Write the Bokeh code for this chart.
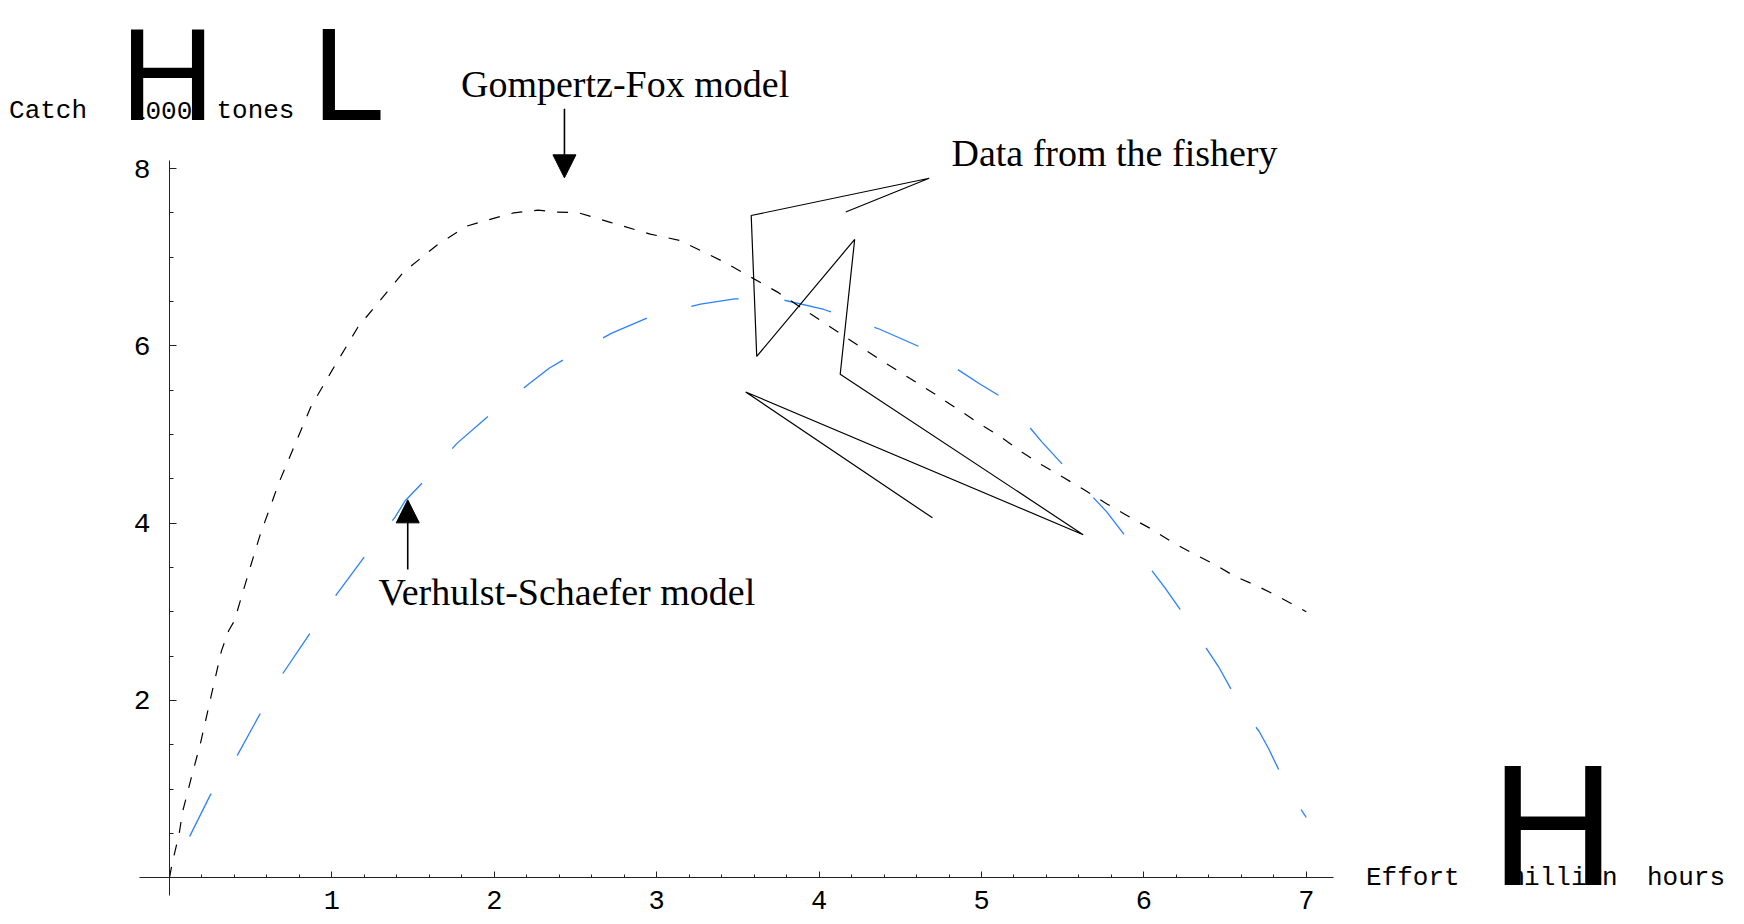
from bokeh.plotting import figure
from bokeh.models import Label, Arrow, NormalHead, FixedTicker, Range1d
from bokeh.embed import file_html
from bokeh.resources import INLINE

# ---------------- data ----------------
# Gompertz-Fox model (black, short dashes)
gf_effort = [0.0, 0.016, 0.06, 0.08, 0.14, 0.19, 0.26, 0.32, 0.365, 0.40, 0.50, 0.56,
             0.62, 0.67, 0.87, 1.00, 1.16, 1.44, 1.65, 1.83, 1.98, 2.12, 2.27, 2.37,
             2.52, 2.72, 2.96, 3.14, 3.41, 3.75, 4.03, 4.37, 4.71, 4.99, 5.12, 5.25,
             5.37, 5.50, 5.62, 5.77, 5.92, 6.05, 6.17, 6.30, 6.44, 6.56, 6.70, 6.83, 7.00]
gf_catch = [0.0, 0.16, 0.50, 0.74, 1.17, 1.51, 2.08, 2.56, 2.79, 2.90, 3.52, 3.88,
            4.18, 4.44, 5.31, 5.72, 6.21, 6.83, 7.14, 7.35, 7.43, 7.50, 7.53, 7.51,
            7.50, 7.39, 7.26, 7.19, 6.95, 6.60, 6.26, 5.85, 5.46, 5.12, 4.97, 4.80,
            4.66, 4.52, 4.39, 4.22, 4.06, 3.93, 3.79, 3.66, 3.53, 3.40, 3.29, 3.17, 3.00]

# Verhulst-Schaefer model (blue, long dashes)
vs_effort = [0.0, 0.125, 0.25, 0.42, 0.57, 0.70, 0.87, 1.03, 1.22, 1.39, 1.45, 1.57,
             1.77, 1.99, 2.22, 2.34, 2.46, 2.72, 2.96, 3.27, 3.48, 3.75, 4.03, 4.37,
             4.68, 4.99, 5.16, 5.37, 5.57, 5.77, 5.95, 6.13, 6.29, 6.46, 6.60, 6.71,
             6.77, 6.89, 7.00]
vs_catch = [0.0, 0.47, 0.93, 1.39, 1.89, 2.31, 2.77, 3.20, 3.67, 4.07, 4.25, 4.48,
            4.90, 5.25, 5.58, 5.75, 5.88, 6.14, 6.33, 6.47, 6.53, 6.53, 6.41, 6.19,
            5.94, 5.57, 5.38, 4.92, 4.52, 4.13, 3.70, 3.27, 2.85, 2.38, 1.92, 1.65,
            1.45, 0.99, 0.68]

# Data from the fishery (black solid, in time order)
obs_effort = [4.164, 4.678, 3.582, 3.616, 4.219, 4.130, 5.626, 3.548, 4.698]
obs_catch = [7.51, 7.89, 7.47, 5.88, 7.20, 5.68, 3.87, 5.48, 4.06]

x_ticks = [1, 2, 3, 4, 5, 6, 7]
y_ticks = [2, 4, 6, 8]
x_minor = [i / 5 for i in range(1, 35) if i % 5 != 0]
y_minor = [i / 2 for i in range(1, 16) if i % 4 != 0]

# ---------------- figure ----------------
W, H = 1744, 924
p = figure(width=W, height=H, output_backend="svg", toolbar_location=None,
           x_range=Range1d(-1.0406, 9.6983), y_range=Range1d(-0.5267, 9.8951),
           min_border=0, background_fill_color="white", border_fill_color="white")
p.outline_line_color = None
p.grid.visible = False

axis_col = "#222222"
xa = p.xaxis[0]
xa.fixed_location = 0
xa.bounds = (-0.185, 7.166)
xa.ticker = FixedTicker(ticks=x_ticks, minor_ticks=x_minor)
xa.major_tick_in = 6
xa.major_tick_out = 0
xa.minor_tick_in = 3
xa.minor_tick_out = 0
xa.axis_line_color = axis_col
xa.major_tick_line_color = axis_col
xa.minor_tick_line_color = axis_col
xa.major_label_text_font = "Liberation Mono"
xa.major_label_text_font_size = "27px"
xa.major_label_text_color = "black"
xa.major_label_standoff = 13

ya = p.yaxis[0]
ya.fixed_location = 0
ya.bounds = (-0.2, 8.09)
ya.ticker = FixedTicker(ticks=y_ticks, minor_ticks=y_minor)
ya.major_tick_in = 7
ya.major_tick_out = 0
ya.minor_tick_in = 4
ya.minor_tick_out = 0
ya.axis_line_color = axis_col
ya.major_tick_line_color = axis_col
ya.minor_tick_line_color = axis_col
ya.major_label_text_font = "Liberation Mono"
ya.major_label_text_font_size = "28px"
ya.major_label_text_color = "black"
ya.major_label_standoff = 19
ya.major_label_orientation = "horizontal"

# curves
p.line(vs_effort, vs_catch, line_color="#2a80ff", line_width=1.3,
       line_dash="48 46", line_dash_offset=48)
p.line(gf_effort, gf_catch, line_color="black", line_width=1.2, line_dash="11 12")
p.line(obs_effort, obs_catch, line_color="black", line_width=1.2)

# annotation texts
serif = "Liberation Serif"
for txt, x, y in [("Gompertz-Fox model", 1.795, 8.9488),
                  ("Verhulst-Schaefer model", 1.287, 3.2269),
                  ("Data from the fishery", 4.815, 8.1784)]:
    p.add_layout(Label(x=x, y=y, text=txt, text_font=serif, text_font_size="38px",
                       text_color="black", text_align="left", text_baseline="alphabetic"))

p.add_layout(Arrow(end=NormalHead(size=23, fill_color="black", line_color="black"),
                   x_start=2.432, y_start=8.674, x_end=2.432, y_end=7.895,
                   line_color="black", line_width=1.6))
p.add_layout(Arrow(end=NormalHead(size=23, fill_color="black", line_color="black"),
                   x_start=1.467, y_start=3.477, x_end=1.467, y_end=4.263,
                   line_color="black", line_width=1.6))

# axis titles (as rendered in the reference, with oversized bracket glyphs)
mono = "Liberation Mono"
for txt, x, y in [("Catch", -0.988, 8.6536), ("1000", -0.2438, 8.6536), ("tones", 0.289, 8.6536),
                  ("Effort", 7.3676, 0.0026), ("million", 8.2451, 0.0026), ("hours", 9.0979, 0.0026)]:
    p.add_layout(Label(x=x, y=y, text=txt, text_font=mono, text_font_size="26px",
                       text_color="black", text_align="left", text_baseline="alphabetic"))

for txt, x, y, fs in [("H", -0.3036, 9.0650, "131px"), ("L", 0.8769, 9.0650, "131px"),
                      ("H", 8.134, 0.6000, "173px")]:
    p.add_layout(Label(x=x, y=y, text=txt, text_font="Liberation Sans", text_font_size=fs,
                       text_color="black", text_align="left", text_baseline="alphabetic"))

open("out.html", "w").write(file_html(p, INLINE))
